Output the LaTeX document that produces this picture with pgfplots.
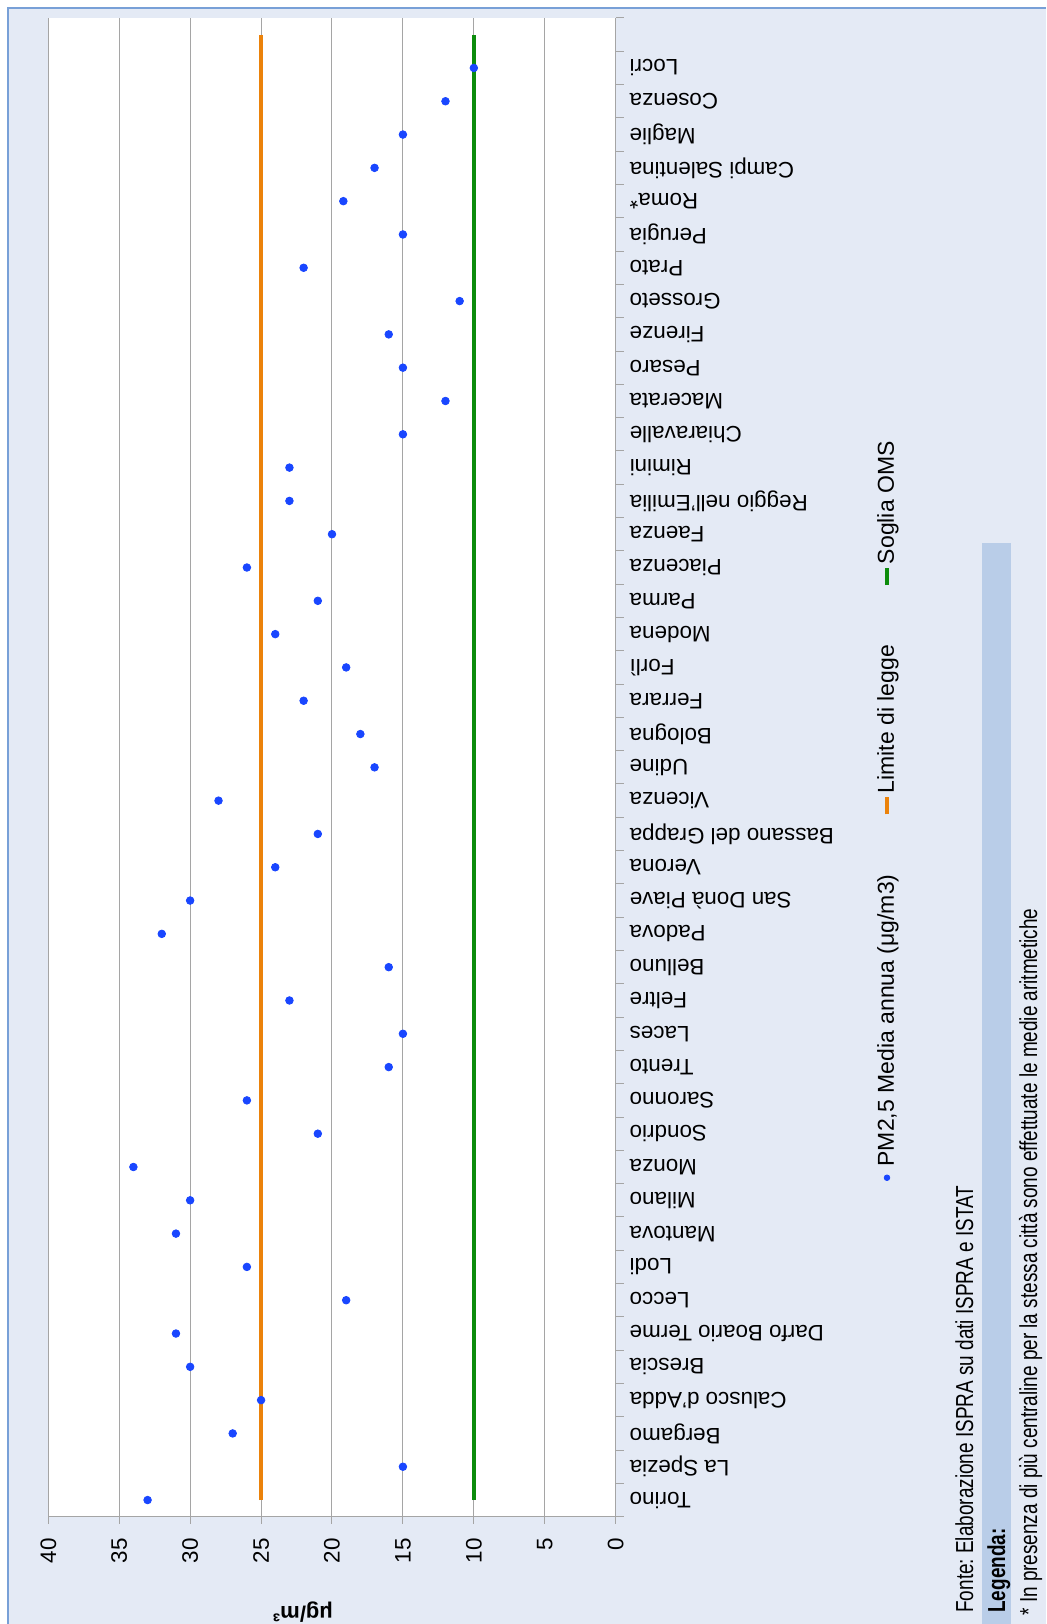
\documentclass[border=0pt]{standalone}
\usepackage{fontspec}
\setmainfont{Liberation Sans}
\newfontfamily\narrowfont[FakeStretch=0.77]{Liberation Sans}
\usepackage{pgfplots}
\usepackage{pgfplotstable}
\pgfplotsset{compat=1.18}
\frenchspacing
\definecolor{bgc}{RGB}{228,234,245}
\definecolor{borderc}{RGB}{120,160,215}
\definecolor{legc}{RGB}{185,205,232}
\definecolor{gridc}{RGB}{165,165,165}
\definecolor{bluec}{RGB}{25,70,255}
\definecolor{orangec}{RGB}{235,130,10}
\definecolor{greenc}{RGB}{12,140,12}
\newcommand\legfont{\fontsize{11.5}{13.8}\selectfont}
\pgfplotsset{
  linelegend/.style={legend image code/.code={\draw[##1] (0pt,0pt) -- (0pt,8.5pt);
     \node[rotate=90, anchor=west, inner sep=0pt, text=black, font=\legfont] at (0pt,9.5pt) {#1};}},
  marklegend/.style={legend image code/.code={\draw[##1, mark size=1.4pt] plot coordinates {(0pt,0pt)};
     \node[rotate=90, anchor=west, inner sep=0pt, text=black, font=\legfont] at (0pt,5.5pt) {#1};}},
}
\pgfplotstableread{
i v
0 33
1 15
2 27
3 25
4 30
5 31
6 19
7 26
8 31
9 30
10 34
11 21
12 26
13 16
14 15
15 23
16 16
17 32
18 30
19 24
20 21
21 28
22 17
23 18
24 22
25 19
26 24
27 21
28 26
29 20
30 23
31 23
32 15
33 12
34 15
35 16
36 11
37 22
38 15
39 19.2
40 17
41 15
42 12
43 10
}\pmdata
\begin{document}
\begin{tikzpicture}
\begin{scope}[x=0.5pt,y=0.5pt]
\fill[white] (0,0) rectangle (1046,1624);
\fill[bgc] (8,0) rectangle (1046,1616);
\draw[borderc, line width=1pt] (8,0) -- (8,1616) -- (1046,1616);
\fill[legc] (982,0) rectangle (1011,1081);
\end{scope}
\begin{axis}[
  at={(166pt,428.325pt)}, anchor=center,
  scale only axis, width=283.7pt, height=749.35pt,
  xmin=0, xmax=40, x dir=reverse,
  ymin=-0.5, ymax=44.5,
  axis background/.style={fill=white},
  axis x line*=bottom, axis y line*=right,
  axis line style={draw=gridc, line width=0.5pt, -},
  xtick={0,5,...,40},
  xmajorgrids, grid style={draw=gridc, line width=0.5pt},
  tick align=outside,
  major tick length=3.5pt, minor tick length=4pt,
  ytick={0,...,43},
  yticklabels={Torino, La Spezia, Bergamo, Calusco d'Adda, Brescia, Darfo Boario Terme, Lecco, Lodi, Mantova, Milano, Monza, Sondrio, Saronno, Trento, Laces, Feltre, Belluno, Padova, San Donà Piave, Verona, Bassano del Grappa, Vicenza, Udine, Bologna, Ferrara, Forlì, Modena, Parma, Piacenza, Faenza, Reggio nell'Emilia, Rimini, Chiaravalle, Macerata, Pesaro, Firenze, Grosseto, Prato, Perugia, Roma*, Campi Salentina, Maglie, Cosenza, Locri},
  minor ytick={-0.5,0.5,...,44.5},
  major y tick style={draw=none},
  minor y tick style={draw=gridc, line width=0.5pt},
  major x tick style={draw=gridc, line width=0.5pt},
  /pgf/number format/assume math mode=true,
  xticklabel style={rotate=90, anchor=east, inner xsep=7pt, font=\fontsize{11.2}{13}\selectfont},
  yticklabel style={rotate=180, anchor=east, font=\fontsize{11.2}{13}\selectfont},
  clip=false,
  legend style={at={(1.4799,0.4709)}, anchor=center, draw=none, fill=none,
    legend columns=1, row sep=29pt, inner sep=0pt,
    nodes={inner sep=0pt}},
]
\addplot[draw=greenc, line width=2pt, linelegend={Soglia OMS}]
  coordinates {(10,0) (10,44)};
\addlegendentry{}
\addplot[draw=orangec, line width=2pt, linelegend={Limite di legge}]
  coordinates {(25,0) (25,44)};
\addlegendentry{}
\addplot[only marks, mark=*, mark size=1.9pt, color=bluec, marklegend={PM2,5 Media annua (μg/m3)}]
  table[x=v, y=i] {\pmdata};
\addlegendentry{}
\end{axis}
\begin{scope}[x=0.5pt,y=0.5pt]
\node[rotate=180, font=\bfseries\fontsize{11}{13}\selectfont] at (303,12) {μg/m³};
\node[rotate=90, anchor=base west, inner sep=0pt, font=\narrowfont\fontsize{12.3}{14}\selectfont] at (973,11) {Fonte: Elaborazione ISPRA su dati ISPRA e ISTAT};
\node[rotate=90, anchor=base west, inner sep=0pt, font=\narrowfont\bfseries\fontsize{12.3}{14}\selectfont] at (1005,11) {Legenda:};
\node[rotate=90, anchor=base west, inner sep=0pt, font=\narrowfont\fontsize{12.3}{14}\selectfont] at (1037,8) {* In presenza di più centraline per la stessa città sono effettuate le medie aritmetiche};
\pgfresetboundingbox
\path[use as bounding box] (0,0) rectangle (1046,1624);
\end{scope}
\end{tikzpicture}
\end{document}
